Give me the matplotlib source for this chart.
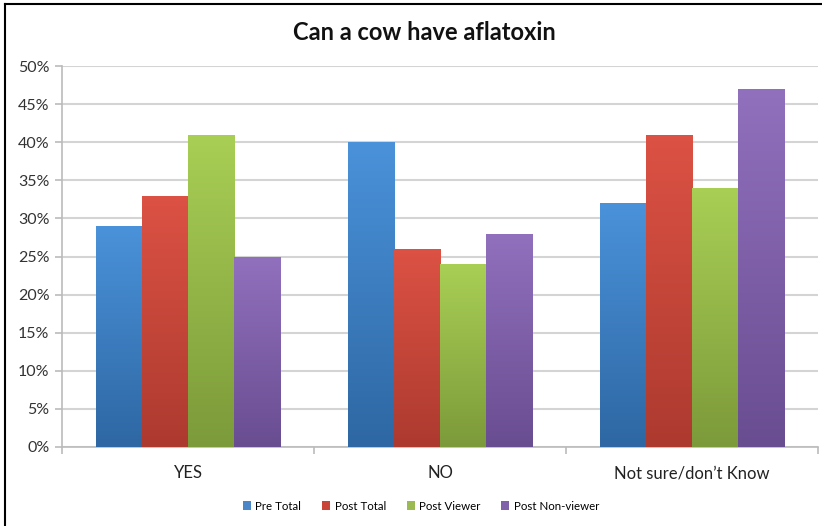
import matplotlib
matplotlib.use("Agg")
import matplotlib.pyplot as plt
import numpy as np
from matplotlib.colors import LinearSegmentedColormap
from matplotlib.lines import Line2D
from matplotlib.patches import Patch

plt.rcParams['font.family'] = ['Lato', 'DejaVu Sans']

categories = ["YES", "NO", "Not sure/don\u2019t Know"]
series_names = ["Pre Total", "Post Total", "Post Viewer", "Post Non-viewer"]
pre_total = [29, 40, 32]
post_total = [33, 26, 41]
post_viewer = [41, 24, 34]
post_nonviewer = [25, 28, 47]
series_values = [pre_total, post_total, post_viewer, post_nonviewer]
yticks = [0, 5, 10, 15, 20, 25, 30, 35, 40, 45, 50]
ytick_labels = [f"{v}%" for v in yticks]

top_colors = ["#4a92da", "#dc5244", "#a9cf55", "#9170bd"]
bot_colors = ["#2e67a3", "#ad3a2f", "#7c9a3a", "#694d91"]
legend_colors = ["#4a86c8", "#c9453a", "#9bbb52", "#7f62a8"]

fig = plt.figure(figsize=(8.22, 5.26), dpi=100)
ax = fig.add_axes([62/822, 1-447/526, (818-62)/822, (447-66)/526])

n = len(series_names)
bw = 0.183
x = np.arange(len(categories))
grad = np.linspace(0, 1, 256).reshape(-1, 1)
for i, (vals, tc, bc) in enumerate(zip(series_values, top_colors, bot_colors)):
    cmap = LinearSegmentedColormap.from_list(f"g{i}", [bc, tc])
    offs = (i - (n - 1) / 2) * bw
    bars = ax.bar(x + offs, vals, width=bw, color=tc, zorder=2, linewidth=0)
    for b in bars:
        x0, y0 = b.get_x(), b.get_y()
        w, h = b.get_width(), b.get_height()
        im = ax.imshow(grad, extent=[x0, x0 + w, y0, y0 + h], origin='lower',
                       cmap=cmap, aspect='auto', zorder=3)
        im.set_clip_path(b)

ax.set_xlim(-0.5, 2.5)
ax.set_ylim(0, 50)
ax.set_yticks(yticks)
ax.set_yticklabels(ytick_labels, fontsize=11.5, color="#333333")
ax.yaxis.grid(True, color="#d4d4d4", linewidth=1.5, zorder=0)
ax.set_axisbelow(True)
ax.set_xticks(x)
ax.set_xticklabels(categories, fontsize=12, color="#222222")
ax.tick_params(axis='x', length=0, pad=13)
ax.tick_params(axis='y', length=5, color="#bbbbbb", width=1.2, pad=4)
ax.set_xticks([-0.5, 0.5, 1.5, 2.5], minor=True)
ax.tick_params(axis='x', which='minor', length=5, color="#bbbbbb", width=1.2)
for s in ['top', 'right']:
    ax.spines[s].set_visible(False)
for s in ['left', 'bottom']:
    ax.spines[s].set_color("#bbbbbb")
    ax.spines[s].set_linewidth(1.2)

fig.text(424/822, 1 - 32/526, "Can a cow have aflatoxin", ha='center', va='center',
         fontsize=17, fontweight='bold', color="#111111")

handles = [Patch(facecolor=c, edgecolor='none') for c in legend_colors]
fig.legend(handles, series_names, loc='center', bbox_to_anchor=(421/822, 1 - 506/526),
           ncol=4, frameon=False, fontsize=8.3, handlelength=0.7, handleheight=0.7,
           handletextpad=0.4, columnspacing=1.8)

# outer frame (left and top)
fig.add_artist(Line2D([5/822, 5/822], [0, 1 - 4/526], transform=fig.transFigure,
                      color='black', linewidth=1.5))
fig.add_artist(Line2D([5/822, 1], [1 - 4/526, 1 - 4/526], transform=fig.transFigure,
                      color='black', linewidth=1.5))

fig.savefig("out.png", dpi=100)
